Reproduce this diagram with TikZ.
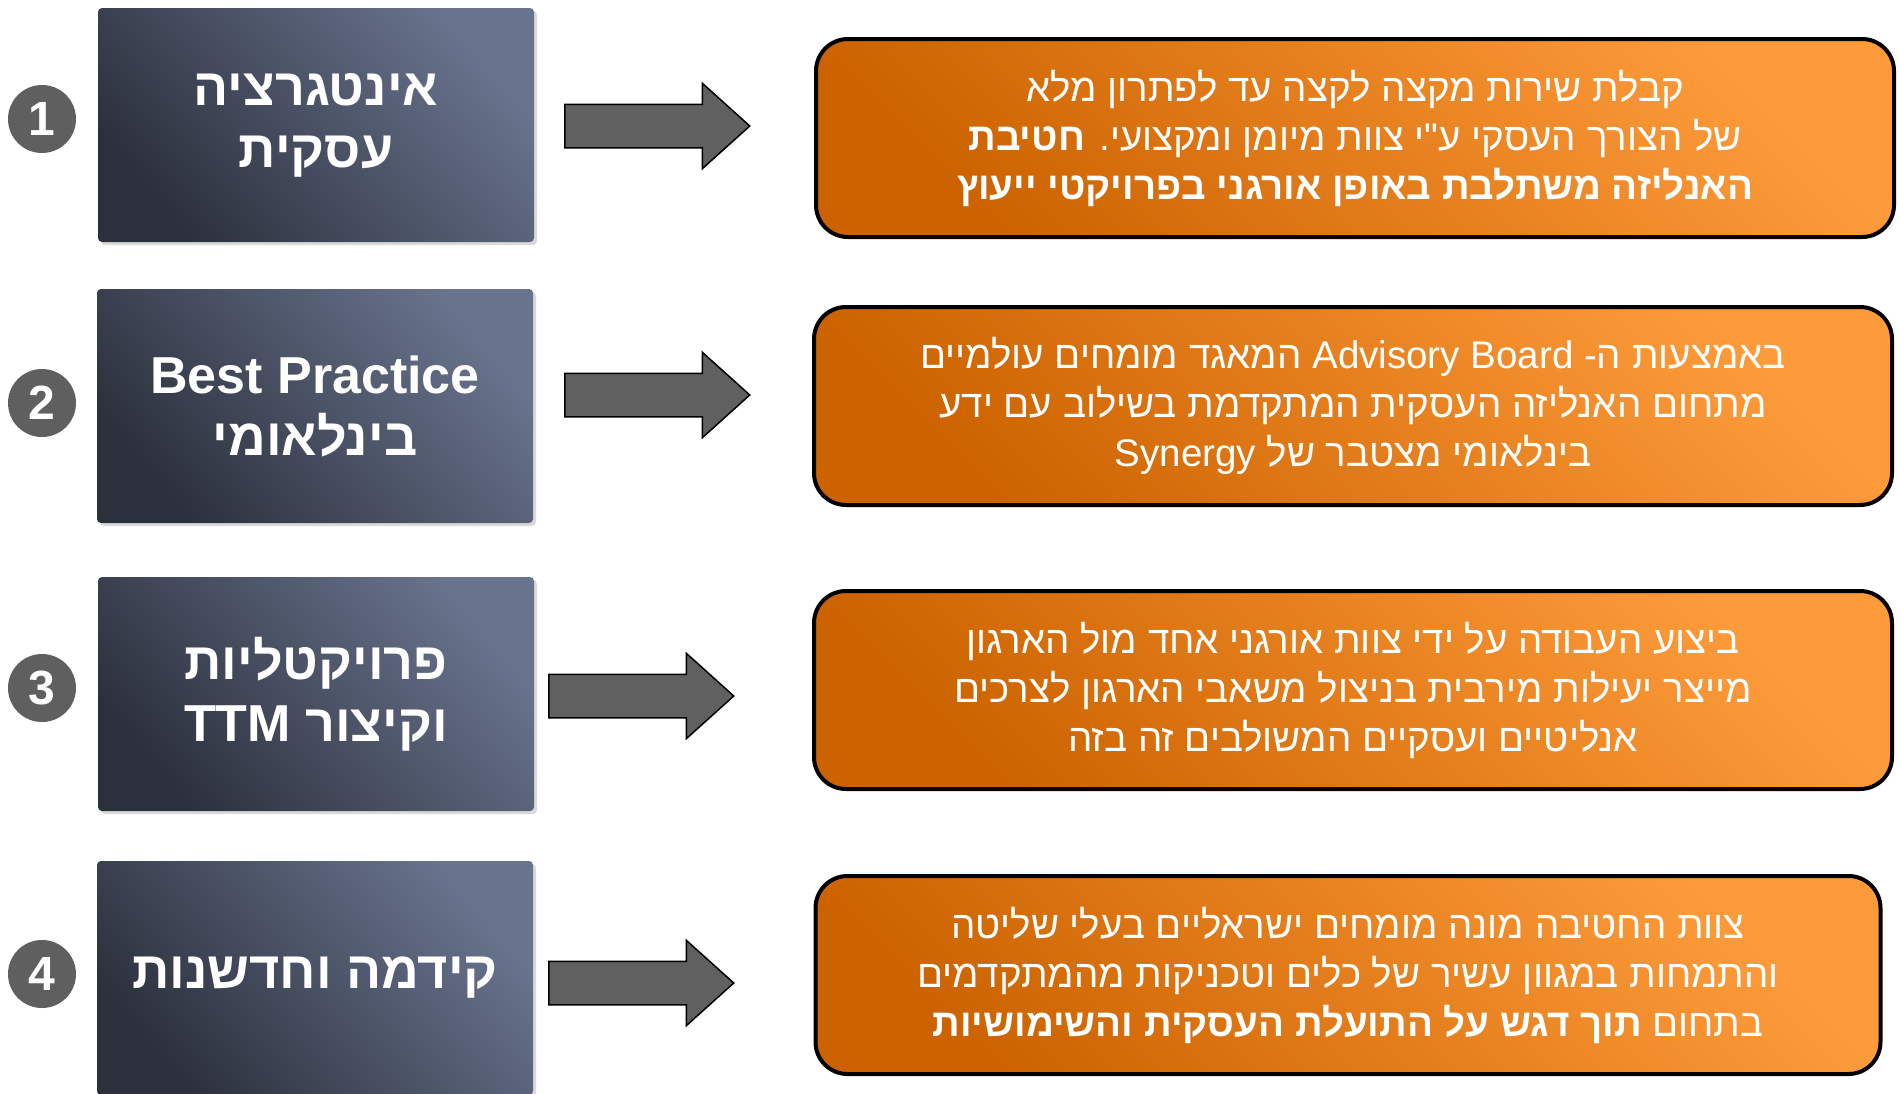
\documentclass[tikz,border=0pt]{standalone}
\usepackage{fontspec}
\setmainfont{Liberation Sans}
\newfontfamily\hebfont[Script=Hebrew]{Liberation Sans}
\TeXXeTstate=1
\usetikzlibrary{shapes.arrows,shadows}
\definecolor{ardoiseA}{HTML}{2C303C}
\definecolor{ardoiseB}{HTML}{68738D}
\definecolor{orangeA}{HTML}{CC6200}
\definecolor{orangeB}{HTML}{FD9B3A}
\definecolor{grisnum}{HTML}{5F5F5F}
\definecolor{grisfleche}{HTML}{606060}
\newcommand{\heb}[1]{\beginR #1\endR}

\begin{document}
\begin{tikzpicture}[x=1pt, y=-1pt]
\tikzset{rondnum/.style={circle, fill=grisnum, minimum size=68pt, inner sep=0pt, text=white, font=\hebfont\fontsize{48}{48}\selectfont\bfseries}}
\tikzset{boitetitre/.style={rectangle, rounded corners=4pt, minimum width=436pt, minimum height=234pt, bottom color=ardoiseA, top color=ardoiseB, shading angle=-50, drop shadow={shadow xshift=3pt, shadow yshift=-3pt, opacity=0.3}, text=white, align=center, font=\hebfont\fontsize{52}{62}\selectfont\bfseries}}
\tikzset{boitetexte/.style={rectangle, rounded corners=32pt, minimum width=1078pt, minimum height=198pt, draw=black, line width=4pt, bottom color=orangeA, top color=orangeB, shading angle=-45, text=white, align=center, font=\hebfont\fontsize{38.5}{49}\selectfont}}
\tikzset{flechebloc/.style={single arrow, draw=black, line width=1.5pt, fill=grisfleche, inner xsep=0pt, inner ysep=21pt, minimum height=185pt, single arrow head extend=21pt, single arrow tip angle=84, anchor=tail}}
\useasboundingbox (0, 0) rectangle (1899, 1093);
\node[rondnum] (N1) at (42, 119) {1};
\node[rondnum] (N2) at (42, 403) {2};
\node[rondnum] (N3) at (42, 688) {3};
\node[rondnum] (N4) at (42, 974) {4};
\node[boitetitre] (T1) at (316, 125) {\heb{אינטגרציה}\\\heb{עסקית}};
\node[boitetitre] (T2) at (315, 406) {Best Practice\\\heb{בינלאומי}};
\node[boitetitre] (T3) at (316, 694) {\heb{פרויקטליות}\\\heb{וקיצור TTM}};
\node[boitetitre] (T4) at (315, 978) {\heb{קידמה וחדשנות}};
\node[boitetexte] (D1) at (1355, 138) {\heb{קבלת שירות מקצה לקצה עד לפתרון מלא}\\\heb{של הצורך העסקי ע"י צוות מיומן ומקצועי. {\bfseries חטיבת}}\\\heb{\bfseries האנליזה משתלבת באופן אורגני בפרויקטי ייעוץ}};
\node[boitetexte] (D2) at (1353, 406) {\heb{באמצעות ה- \beginL Advisory Board\endL{} המאגד מומחים עולמיים}\\\heb{מתחום האנליזה העסקית המתקדמת בשילוב עם ידע}\\\heb{בינלאומי מצטבר של Synergy}};
\node[boitetexte] (D3) at (1353, 690) {\heb{ביצוע העבודה על ידי צוות אורגני אחד מול הארגון}\\\heb{מייצר יעילות מירבית בניצול משאבי הארגון לצרכים}\\\heb{אנליטיים ועסקיים המשולבים זה בזה}};
\node[boitetexte, minimum width=1065pt] (D4) at (1348, 975) {\heb{צוות החטיבה מונה מומחים ישראליים בעלי שליטה}\\\heb{והתמחות במגוון עשיר של כלים וטכניקות מהמתקדמים}\\\heb{בתחום {\bfseries תוך דגש על התועלת העסקית והשימושיות}}};
\node[flechebloc] (F1) at (564, 126) {};
\node[flechebloc] (F2) at (564, 395) {};
\node[flechebloc] (F3) at (548, 696) {};
\node[flechebloc] (F4) at (548, 983) {};
\end{tikzpicture}
\end{document}
